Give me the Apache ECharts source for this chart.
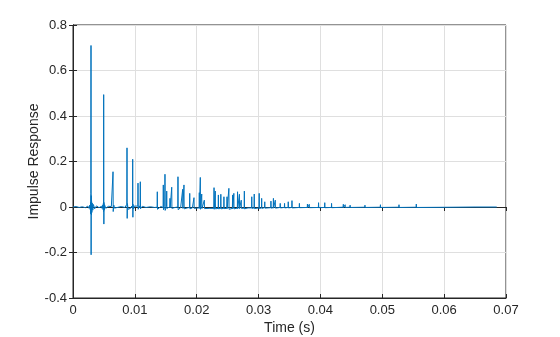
<!DOCTYPE html>
<html><head><meta charset="utf-8">
<script src="https://cdn.jsdelivr.net/npm/echarts@6/dist/echarts.min.js"></script>
<style>html,body{margin:0;padding:0;background:#fff}#c{width:560px;height:337px}</style>
</head><body><div id="c"></div>
<script>
// Time samples (s)
var time = [
  0, 0.0005, 0.0010, 0.0015, 0.0020, 0.0024, 0.0026, 0.0027, 0.0028,
  0.00284, 0.00287, 0.00289, 0.00291, 0.00293, 0.00295, 0.00298, 0.0030, 0.00305, 0.0031, 0.0032, 0.0033, 0.0035, 0.0038, 0.0042,
  0.0046, 0.0047, 0.0048, 0.00488, 0.00490, 0.00494, 0.00496, 0.00499, 0.0050, 0.00505, 0.0051, 0.0053, 0.0057,
  0.0062, 0.0063, 0.00644, 0.00647, 0.00650, 0.0066, 0.0067, 0.0070, 0.0078,
  0.0084, 0.0085, 0.0087, 0.00870, 0.00873, 0.00876, 0.0088, 0.0089, 0.0093, 0.0095, 0.00962, 0.00965, 0.00968, 0.0097, 0.0098, 0.0099,
  0.0102, 0.01048, 0.01051, 0.01054, 0.0107, 0.01085, 0.01088, 0.01091, 0.0112, 0.0118, 0.0125, 0.0132,
  0.0136, 0.01363, 0.01366, 0.0142, 0.01457, 0.0146, 0.01463, 0.01484, 0.01487, 0.0149, 0.01512, 0.01515, 0.01518,
  0.01565, 0.01568, 0.01571, 0.01593, 0.01596, 0.01599, 0.0165, 0.01694, 0.01697, 0.017, 0.0174, 0.01770, 0.01773, 0.01776,
  0.01791, 0.01794, 0.01797, 0.0185, 0.01884, 0.01887, 0.0189, 0.0193, 0.01953, 0.01956, 0.01959, 0.0200,
  0.02039, 0.02042, 0.02045, 0.02055, 0.02058, 0.02061, 0.02078, 0.02081, 0.02084, 0.0211, 0.02120, 0.02123, 0.02126, 0.0220,
  0.02277, 0.0228, 0.02283, 0.02297, 0.0230, 0.02303, 0.02347, 0.0235, 0.02353, 0.02387, 0.0239, 0.02393, 0.02437, 0.0244, 0.02443,
  0.02487, 0.0249, 0.02493, 0.02517, 0.0252, 0.02523, 0.02577, 0.0258, 0.02583, 0.02597, 0.0260, 0.02603,
  0.02657, 0.0266, 0.02663, 0.02687, 0.0269, 0.02693, 0.02717, 0.0272, 0.02723, 0.02767, 0.0277, 0.02773, 0.0283,
  0.02887, 0.0289, 0.02893, 0.02927, 0.0293, 0.02933, 0.03007, 0.0301, 0.03013, 0.03047, 0.0305, 0.03053, 0.03097, 0.0310, 0.03103,
  0.03197, 0.0320, 0.03203, 0.03237, 0.0324, 0.03243, 0.03267, 0.0327, 0.03273, 0.03347, 0.0335, 0.03353,
  0.03417, 0.0342, 0.03423, 0.03477, 0.0348, 0.03483, 0.03537, 0.0354, 0.03543, 0.03657, 0.0366, 0.03663,
  0.03787, 0.0379, 0.03793, 0.03817, 0.0382, 0.03823, 0.03967, 0.0397, 0.03973, 0.04067, 0.0407, 0.04073,
  0.04177, 0.0418, 0.04183, 0.04367, 0.0437, 0.04373, 0.04397, 0.0440, 0.04403, 0.04477, 0.0448, 0.04483,
  0.04717, 0.0472, 0.04723, 0.04967, 0.0497, 0.04973, 0.05267, 0.0527, 0.05273, 0.05547, 0.0555, 0.05553,
  0.06127, 0.0613, 0.06133, 0.0650, 0.0685
];
// Impulse response values
var response = [
  0, 0.002, -0.002, 0.001, -0.003, 0.004, -0.006, 0.008, -0.012,
  0.02, -0.03, 0.06, 0.71, -0.21, 0.05, -0.035, 0.028, -0.024, 0.018, -0.014, 0.011, -0.008, 0.005, -0.003,
  0.003, -0.006, 0.008, -0.012, 0.015, -0.02, 0.494, -0.075, 0.02, -0.014, 0.01, -0.006, 0.003,
  0.002, -0.005, 0.008, 0.155, -0.02, 0.008, -0.005, -0.003, 0.002,
  -0.002, 0.005, -0.01, 0.012, 0.26, -0.05, 0.015, -0.01, -0.006, 0.004, -0.006, 0.21, -0.045, 0.012, -0.008, 0.004,
  -0.004, 0.004, 0.105, -0.01, 0.005, -0.004, 0.111, -0.008, 0.003, -0.002, 0.001, -0.002,
  -0.001, 0.067, -0.01, 0.002, -0.002, 0.097, -0.012, 0.001, 0.144, -0.015, 0.002, 0.07, -0.006,
  0.001, 0.038, -0.004, 0.001, 0.087, -0.006, -0.002, 0.0, 0.133, -0.012, -0.003, -0.001, 0.078, -0.006,
  -0.002, 0.097, -0.008, -0.004, -0.002, 0.06, -0.008, -0.004, -0.003, 0.041, -0.006, -0.005,
  -0.004, 0.063, -0.006, -0.004, 0.13, -0.01, -0.005, 0.057, -0.007, -0.006, -0.005, 0.03, -0.007, -0.006,
  -0.006, 0.085, -0.01, -0.006, 0.07, -0.008, -0.006, 0.053, -0.008, -0.006, 0.056, -0.008, -0.006, 0.045, -0.007,
  -0.006, 0.045, -0.007, -0.006, 0.082, -0.01, -0.006, 0.053, -0.008, -0.006, 0.06, -0.008,
  -0.005, 0.067, -0.008, -0.005, 0.056, -0.007, -0.005, 0.03, -0.006, -0.005, 0.07, -0.008, -0.004,
  -0.004, 0.045, -0.006, -0.004, 0.057, -0.007, -0.004, 0.06, -0.007, -0.004, 0.038, -0.006, -0.003, 0.023, -0.005,
  -0.003, 0.026, -0.005, -0.003, 0.038, -0.005, -0.003, 0.03, -0.005, -0.002, 0.016, -0.004,
  -0.002, 0.016, -0.004, -0.002, 0.023, -0.004, -0.002, 0.028, -0.004, -0.002, 0.016, -0.003,
  -0.002, 0.013, -0.003, -0.002, 0.012, -0.003, -0.002, 0.019, -0.003, -0.002, 0.019, -0.003,
  -0.002, 0.016, -0.003, -0.001, 0.012, -0.003, -0.001, 0.010, -0.002, -0.001, 0.008, -0.002,
  -0.001, 0.008, -0.002, -0.001, 0.010, -0.002, -0.001, 0.010, -0.002, -0.001, 0.013, -0.002,
  -0.001, 0.006, -0.001, 0, 0
];
var xTicks = [0, 0.01, 0.02, 0.03, 0.04, 0.05, 0.06, 0.07];
var yTicks = [-0.4, -0.2, 0, 0.2, 0.4, 0.6, 0.8];

var data = time.map(function (t, i) { return [t, response[i]]; });
var font = '"Liberation Sans", Arial, Helvetica, sans-serif';
var axisCol = '#262626';
function fmt(v) { return String(Math.round(v * 1000) / 1000); }

var chart = echarts.init(document.getElementById('c'), null, { renderer: 'canvas' });
chart.setOption({
  animation: false,
  grid: { left: 73, right: 54, top: 25, bottom: 39, containLabel: false, outerBoundsMode: 'none',
          show: true, borderColor: axisCol, borderWidth: 1, backgroundColor: '#fff' },
  xAxis: [{
    type: 'value', min: xTicks[0], max: xTicks[xTicks.length - 1], interval: 0.01,
    name: 'Time (s)', nameLocation: 'middle', nameGap: 23, nameMoveOverlap: false,
    nameTextStyle: { fontFamily: font, fontSize: 14, color: axisCol, verticalAlign: 'top' },
    axisLine: { show: true, onZero: false, lineStyle: { color: axisCol } },
    axisTick: { show: true, inside: true, length: 4, lineStyle: { color: axisCol } },
    axisLabel: { fontFamily: font, fontSize: 13, color: axisCol, margin: 6, formatter: fmt },
    splitLine: { show: true, lineStyle: { color: '#dfdfdf', width: 1 } }
  }, {
    type: 'value', position: 'top', min: 0, max: 0.07, interval: 0.01,
    axisLine: { show: true, lineStyle: { color: axisCol } },
    axisTick: { show: true, inside: true, length: 4, lineStyle: { color: axisCol } },
    axisLabel: { show: false }, splitLine: { show: false }
  }],
  yAxis: [{
    type: 'value', min: yTicks[0], max: yTicks[yTicks.length - 1], interval: 0.2,
    name: 'Impulse Response', nameLocation: 'middle', nameGap: 32, nameRotate: 90, nameMoveOverlap: false,
    nameTextStyle: { fontFamily: font, fontSize: 14, color: axisCol },
    axisLine: { show: true, onZero: false, lineStyle: { color: axisCol } },
    axisTick: { show: true, inside: true, length: 4, lineStyle: { color: axisCol } },
    axisLabel: { fontFamily: font, fontSize: 13, color: axisCol, margin: 6, formatter: fmt },
    splitLine: { show: true, lineStyle: { color: '#dfdfdf', width: 1 } }
  }, {
    type: 'value', position: 'right', min: -0.4, max: 0.8, interval: 0.2,
    axisLine: { show: true, lineStyle: { color: axisCol } },
    axisTick: { show: true, inside: true, length: 4, lineStyle: { color: axisCol } },
    axisLabel: { show: false }, splitLine: { show: false }
  }],
  series: [{
    type: 'line', data: data, xAxisIndex: 0, yAxisIndex: 0,
    showSymbol: false, symbol: 'none', smooth: false,
    lineStyle: { color: '#0072BD', width: 1 },
    sampling: null
  }]
});
</script></body></html>
